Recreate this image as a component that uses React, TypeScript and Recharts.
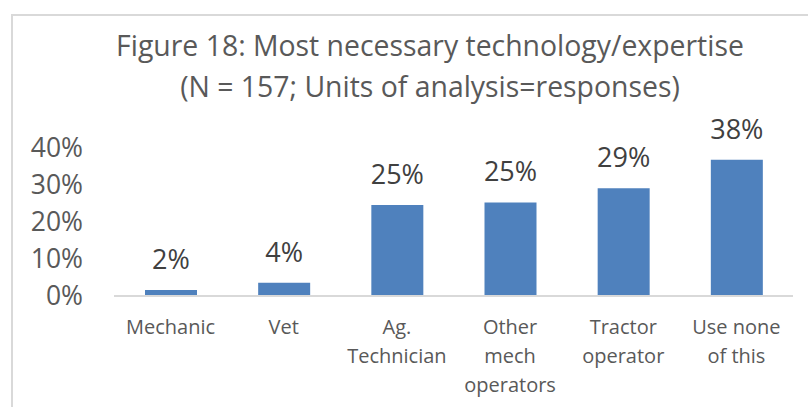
import React from 'react';
import { BarChart, Bar, XAxis, YAxis, LabelList } from 'recharts';

const categories = [
  'Mechanic',
  'Vet',
  'Ag.\nTechnician',
  'Other\nmech\noperators',
  'Tractor\noperator',
  'Use none\nof this',
];
const shares = [0.016, 0.036, 0.246, 0.253, 0.291, 0.368];
const shareLabels = ['2%', '4%', '25%', '25%', '29%', '38%'];
const yTicks = [0, 0.1, 0.2, 0.3, 0.4];

const FONT = '"Open Sans", "Noto Sans", sans-serif';

const data = categories.map((name, i) => ({
  name,
  value: shares[i],
  label: shareLabels[i],
}));

const CategoryTick = (props: any) => {
  const { x, y, payload } = props;
  const lines = String(payload.value).split('\n');
  return (
    <text x={x} y={y} textAnchor="middle" fill="#595959" fontSize={20} fontFamily={FONT}>
      {lines.map((line, i) => (
        <tspan key={i} x={x} dy={i === 0 ? '0.72em' : 29}>
          {line}
        </tspan>
      ))}
    </text>
  );
};

export default function App() {
  return (
    <div style={{ position: 'absolute', left: 0, top: 0, width: 808, height: 407, overflow: 'hidden', background: '#fff' }}>
      {/* chart frame */}
      <div
        style={{
          position: 'absolute',
          left: 11,
          top: 14,
          width: 840,
          height: 420,
          borderLeft: '2px solid #d9d9d9',
          borderTop: '2px solid #d9d9d9',
        }}
      />
      <div
        style={{
          position: 'absolute',
          left: 30,
          width: 800,
          top: 25,
          textAlign: 'center',
          fontFamily: FONT,
          fontSize: 28.4,
          lineHeight: '41px',
          color: '#595959',
        }}
      >
        Figure 18: Most necessary technology/expertise
        <br />
        (N = 157; Units of analysis=responses)
      </div>
      <div style={{ position: 'absolute', left: 0, top: 0 }}>
        <BarChart
          width={808}
          height={407}
          data={data}
          margin={{ top: 148, right: 15, bottom: 0, left: 0 }}
          barSize={52}
        >
          <XAxis
            dataKey="name"
            interval={0}
            height={111}
            axisLine={{ stroke: '#d9d9d9', strokeWidth: 2 }}
            tickLine={false}
            tickMargin={18}
            tick={<CategoryTick />}
          />
          <YAxis
            width={114}
            domain={[0, 0.4]}
            ticks={yTicks}
            axisLine={false}
            tickLine={false}
            tickMargin={25}
            tickFormatter={(v: number) => `${Math.round(v * 100)}%`}
            tick={{ fill: '#595959', fontSize: 26.5, fontFamily: FONT }}
          />
          <Bar dataKey="value" fill="#4f81bd" isAnimationActive={false}>
            <LabelList
              dataKey="label"
              position="top"
              offset={21}
              fill="#404040"
              fontSize={27}
              fontFamily={FONT}
            />
          </Bar>
        </BarChart>
      </div>
    </div>
  );
}
